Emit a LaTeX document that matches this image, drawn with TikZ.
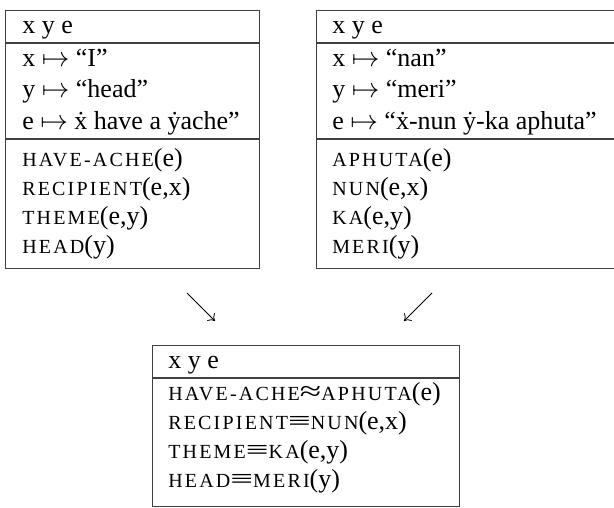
\documentclass[tikz,border=0pt]{standalone}
\usepackage{fontspec}
\setmainfont{Liberation Serif}
\usetikzlibrary{arrows.meta}
% predicate names: uppercase letters set smaller and letter-spaced
\newcommand\smc[1]{{\fontsize{15pt}{18pt}\selectfont\addfontfeature{LetterSpace=11}#1}}
\newcommand\dt[1]{#1\char"0307\relax}
% wide relation signs between predicate names
\newcommand\wideeq{\scalebox{1.55}[1]{≡}}
\newcommand\wideapprox{\scalebox{1.5}[1.05]{≈}}
\begin{document}
\begin{tikzpicture}[x=0.75pt,y=-0.75pt,
  boxline/.style={draw=black!75,line width=0.8pt},
  txt/.style={anchor=base west,inner sep=0pt,text height=13pt,text depth=3.5pt,
    font=\fontsize{19.5pt}{23pt}\selectfont},
  drsbox/.style={boxline,rectangle,inner sep=0pt,anchor=north west},
  mapsarrow/.style={line width=0.6pt,-{To[length=4.5pt,width=8pt]}}]
\useasboundingbox (0,0) rectangle (614,507);

% left structure
\node[drsbox,minimum width=254*0.75pt,minimum height=258*0.75pt] (L) at (5,10) {};
\draw[boxline] (5,43) -- (259,43);
\draw[boxline] (5,139) -- (259,139);
\node[txt] (l0) at (22,33) {x y e};
\node[txt] (l1) at (22,66) {x $\mapsto$ “I”};
\node[txt] (l2) at (22,97) {y $\mapsto$ “head”};
\node[txt] (l3) at (22,129) {e $\mapsto$ \dt{x} have a \dt{y}ache”};
\node[txt] (l4) at (22,166) {\smc{HAVE-ACHE}(e)};
\node[txt] (l5) at (22,195) {\smc{RECIPIENT}(e,x)};
\node[txt] (l6) at (22,224) {\smc{THEME}(e,y)};
\node[txt] (l7) at (22,253) {\smc{HEAD}(y)};

% right structure
\node[drsbox,minimum width=306*0.75pt,minimum height=258*0.75pt] (R) at (316,10) {};
\draw[boxline] (316,43) -- (622,43);
\draw[boxline] (316,139) -- (622,139);
\node[txt] (r0) at (332,33) {x y e};
\node[txt] (r1) at (332,66) {x $\mapsto$ “nan”};
\node[txt] (r2) at (332,97) {y $\mapsto$ “meri”};
\node[txt] (r3) at (332,129) {e $\mapsto$ “\dt{x}-nun \dt{y}-ka aphuta”};
\node[txt] (r4) at (332,166) {\smc{APHUTA}(e)};
\node[txt] (r5) at (332,195) {\smc{NUN}(e,x)};
\node[txt] (r6) at (332,224) {\smc{KA}(e,y)};
\node[txt] (r7) at (332,253) {\smc{MERI}(y)};

% merged structure
\node[drsbox,minimum width=307*0.75pt,minimum height=161*0.75pt] (M) at (152,345) {};
\draw[boxline] (152,378) -- (459,378);
\node[txt] (m0) at (168,368) {x y e};
\node[txt] (m1) at (168,400) {\smc{HAVE-ACHE}\wideapprox\smc{APHUTA}(e)};
\node[txt] (m2) at (168,429) {\smc{RECIPIENT}\wideeq\smc{NUN}(e,x)};
\node[txt] (m3) at (168,458) {\smc{THEME}\wideeq\smc{KA}(e,y)};
\node[txt] (m4) at (168,487) {\smc{HEAD}\wideeq\smc{MERI}(y)};

% arrows into the merged structure
\coordinate (a1) at (187,293);
\coordinate (a2) at (215,321);
\coordinate (b1) at (432,293);
\coordinate (b2) at (404,321);
\draw[mapsarrow] (a1) -- (a2);
\draw[mapsarrow] (b1) -- (b2);
\end{tikzpicture}
\end{document}
